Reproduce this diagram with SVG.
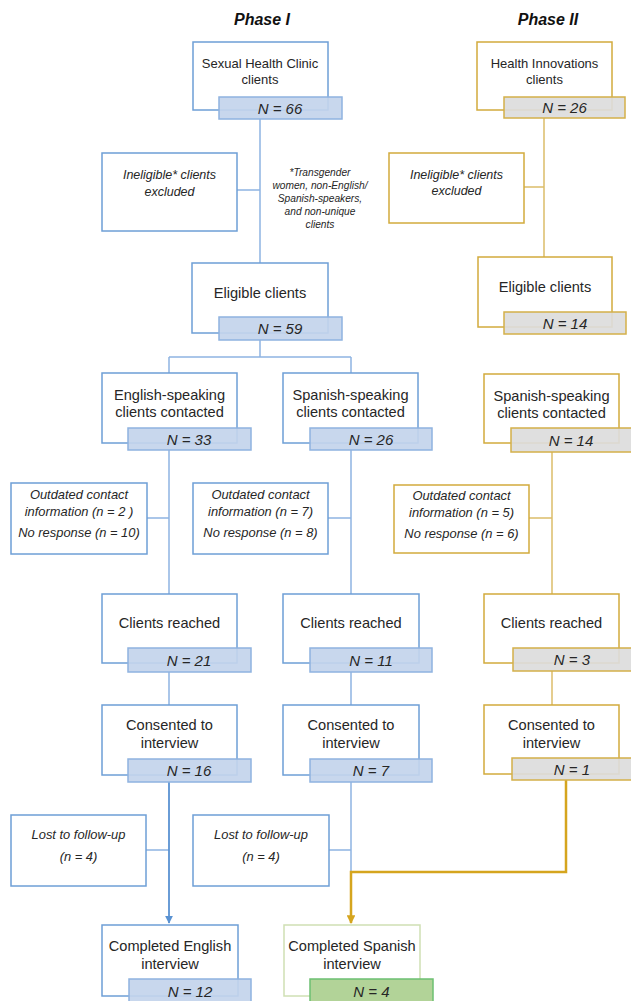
<svg xmlns="http://www.w3.org/2000/svg" width="631" height="1001" viewBox="0 0 631 1001">
<defs>
<style>
text{font-family:"Liberation Sans",Arial,sans-serif;fill:#262626;text-anchor:middle}
.t{font-size:13px}
.u{font-size:14.6px}
.i{font-size:12.5px;font-style:italic}
.o{font-size:12.9px;font-style:italic}
.n{font-size:15px;font-style:italic}
.fn{font-size:10.2px;font-style:italic}
.h{font-size:16px;font-weight:bold;font-style:italic;fill:#111}
.bb{fill:#fff;stroke:#6e9fd6;stroke-width:1.5}
.gb{fill:#fff;stroke:#d2ab3c;stroke-width:1.5}
.eb{fill:#fff;stroke:#cfe0b4;stroke-width:1.5}
.bn{fill:#c3d4ec;fill-opacity:0.92;stroke:#8fb3e0;stroke-width:1.5}
.gn{fill:#dcdcdc;fill-opacity:0.92;stroke:#d4b04a;stroke-width:1.5}
.en{fill:#b2d398;stroke:#6cc072;stroke-width:1.5}
.bl{fill:none;stroke:#8fb4e2;stroke-width:1.5}
.gl{fill:none;stroke:#dcbd6a;stroke-width:1.5}
.ba{fill:none;stroke:#5a92d2;stroke-width:1.8}
.ga{fill:none;stroke:#d5a51e;stroke-width:2.5}
</style>
<marker id="arrB" viewBox="0 0 10 10" refX="9" refY="5" markerWidth="4.5" markerHeight="4.5" orient="auto"><path d="M0,0L10,5L0,10z" fill="#5a92d2"/></marker>
<marker id="arrG" viewBox="0 0 10 10" refX="9" refY="5" markerWidth="3.5" markerHeight="3.5" orient="auto"><path d="M0,0L10,5L0,10z" fill="#d5a51e"/></marker>
</defs>

<text class="h" x="262" y="25">Phase I</text>
<text class="h" x="548" y="25">Phase II</text>

<g id="connectors">
<path class="bl" d="M260,119V263M237,190H260"/>
<path class="bl" d="M260,340V357M169,357H351M169,357V373M351,357V373"/>
<path class="bl" d="M169,450V594M147,518H169"/>
<path class="bl" d="M351,450V594M328,518H351"/>
<path class="bl" d="M169,672V705M351,672V705"/>
<path class="bl" d="M351,782V872M146,850H169M329,850H351"/>
<path class="ba" d="M169,782V923" marker-end="url(#arrB)"/>
<path class="gl" d="M544,118V257M524,187H544"/>
<path class="gl" d="M552,452V594M529,518H552"/>
<path class="gl" d="M552,671V705"/>
<path class="ga" d="M566,780V872H351V923" marker-end="url(#arrG)"/>
</g>

<g id="n_shc">
<rect class="bb" x="193" y="42" width="135" height="68"/>
<rect class="bn" x="219" y="97" width="123" height="22"/>
<text class="t" x="260" y="68">Sexual Health Clinic</text>
<text class="t" x="260" y="84">clients</text>
<text class="n" x="280" y="114">N = 66</text>
</g>
<g id="n_inel1">
<rect class="bb" x="102" y="153" width="135" height="78"/>
<text class="i" x="169.5" y="179">Ineligible* clients</text>
<text class="i" x="169.5" y="196">excluded</text>
</g>
<g id="footnote">
<text class="fn" x="320" y="176">*Transgender</text>
<text class="fn" x="320" y="189">women, non-English/</text>
<text class="fn" x="320" y="202">Spanish-speakers,</text>
<text class="fn" x="320" y="215">and non-unique</text>
<text class="fn" x="320" y="228">clients</text>
</g>
<g id="n_elig1">
<rect class="bb" x="192" y="263" width="136" height="70"/>
<rect class="bn" x="219" y="317" width="123" height="23"/>
<text class="u" x="260" y="298">Eligible clients</text>
<text class="n" x="280" y="334">N = 59</text>
</g>
<g id="n_eng">
<rect class="bb" x="102" y="373" width="135" height="70"/>
<rect class="bn" x="128" y="428" width="123" height="22"/>
<text class="u" x="169.5" y="400">English-speaking</text>
<text class="u" x="169.5" y="417">clients contacted</text>
<text class="n" x="189" y="445">N = 33</text>
</g>
<g id="n_spa1">
<rect class="bb" x="283" y="373" width="135" height="70"/>
<rect class="bn" x="310" y="428" width="122" height="22"/>
<text class="u" x="350.5" y="400">Spanish-speaking</text>
<text class="u" x="350.5" y="417">clients contacted</text>
<text class="n" x="371" y="445">N = 26</text>
</g>
<g id="n_out1">
<rect class="bb" x="11" y="483" width="136" height="71"/>
<text class="o" x="79" y="499">Outdated contact</text>
<text class="o" x="79" y="516">information (n = 2 )</text>
<text class="o" x="79" y="537">No response (n = 10)</text>
</g>
<g id="n_out2">
<rect class="bb" x="193" y="483" width="135" height="71"/>
<text class="o" x="260.5" y="499">Outdated contact</text>
<text class="o" x="260.5" y="516">information (n = 7)</text>
<text class="o" x="260.5" y="537">No response (n = 8)</text>
</g>
<g id="n_reach1">
<rect class="bb" x="102" y="594" width="135" height="69"/>
<rect class="bn" x="128" y="648" width="123" height="24"/>
<text class="u" x="169.5" y="628">Clients reached</text>
<text class="n" x="189" y="666">N = 21</text>
</g>
<g id="n_reach2">
<rect class="bb" x="283" y="594" width="136" height="69"/>
<rect class="bn" x="310" y="648" width="122" height="24"/>
<text class="u" x="351" y="628">Clients reached</text>
<text class="n" x="371" y="666">N = 11</text>
</g>
<g id="n_cons1">
<rect class="bb" x="102" y="705" width="135" height="70"/>
<rect class="bn" x="128" y="759" width="123" height="23"/>
<text class="u" x="169.5" y="730">Consented to</text>
<text class="u" x="169.5" y="748">interview</text>
<text class="n" x="189" y="776">N = 16</text>
</g>
<g id="n_cons2">
<rect class="bb" x="283" y="705" width="136" height="70"/>
<rect class="bn" x="310" y="759" width="122" height="23"/>
<text class="u" x="351" y="730">Consented to</text>
<text class="u" x="351" y="748">interview</text>
<text class="n" x="371" y="776">N = 7</text>
</g>
<g id="n_lost1">
<rect class="bb" x="11" y="815" width="135" height="71"/>
<text class="o" x="78.5" y="839">Lost to follow-up</text>
<text class="o" x="78.5" y="861">(n = 4)</text>
</g>
<g id="n_lost2">
<rect class="bb" x="193" y="815" width="136" height="71"/>
<text class="o" x="261" y="839">Lost to follow-up</text>
<text class="o" x="261" y="861">(n = 4)</text>
</g>
<g id="n_comp_en">
<rect class="bb" x="102" y="925" width="136" height="71"/>
<rect class="bn" x="129" y="979" width="122" height="24"/>
<text class="u" x="170" y="951">Completed English</text>
<text class="u" x="170" y="969">interview</text>
<text class="n" x="190" y="997">N = 12</text>
</g>
<g id="n_comp_es">
<rect class="eb" x="284" y="925" width="136" height="71"/>
<rect class="en" x="310" y="979" width="123" height="24"/>
<text class="u" x="352" y="951">Completed Spanish</text>
<text class="u" x="352" y="969">interview</text>
<text class="n" x="371.5" y="997">N = 4</text>
</g>

<g id="n_hi">
<rect class="gb" x="477" y="42" width="135" height="68"/>
<rect class="gn" x="504" y="97" width="121" height="21"/>
<text class="t" x="544.5" y="68">Health Innovations</text>
<text class="t" x="544.5" y="84">clients</text>
<text class="n" x="564.5" y="113">N = 26</text>
</g>
<g id="n_inel2">
<rect class="gb" x="389" y="153" width="135" height="70"/>
<text class="i" x="456.5" y="179">Ineligible* clients</text>
<text class="i" x="456.5" y="195">excluded</text>
</g>
<g id="n_elig2">
<rect class="gb" x="478" y="257" width="134" height="70"/>
<rect class="gn" x="504" y="312" width="122" height="22"/>
<text class="u" x="545" y="292">Eligible clients</text>
<text class="n" x="565" y="329">N = 14</text>
</g>
<g id="n_spa2">
<rect class="gb" x="484" y="374" width="135" height="69"/>
<rect class="gn" x="511" y="428" width="121" height="24"/>
<text class="u" x="551.5" y="401">Spanish-speaking</text>
<text class="u" x="551.5" y="418">clients contacted</text>
<text class="n" x="571" y="446">N = 14</text>
</g>
<g id="n_out3">
<rect class="gb" x="394" y="485" width="135" height="68"/>
<text class="o" x="461.5" y="500">Outdated contact</text>
<text class="o" x="461.5" y="517">information (n = 5)</text>
<text class="o" x="461.5" y="538">No response (n = 6)</text>
</g>
<g id="n_reach3">
<rect class="gb" x="484" y="594" width="135" height="69"/>
<rect class="gn" x="513" y="648" width="119" height="23"/>
<text class="u" x="551.5" y="628">Clients reached</text>
<text class="n" x="572" y="665">N = 3</text>
</g>
<g id="n_cons3">
<rect class="gb" x="484" y="705" width="135" height="69"/>
<rect class="gn" x="512" y="758" width="120" height="22"/>
<text class="u" x="551.5" y="730">Consented to</text>
<text class="u" x="551.5" y="748">interview</text>
<text class="n" x="572" y="775">N = 1</text>
</g>
</svg>
